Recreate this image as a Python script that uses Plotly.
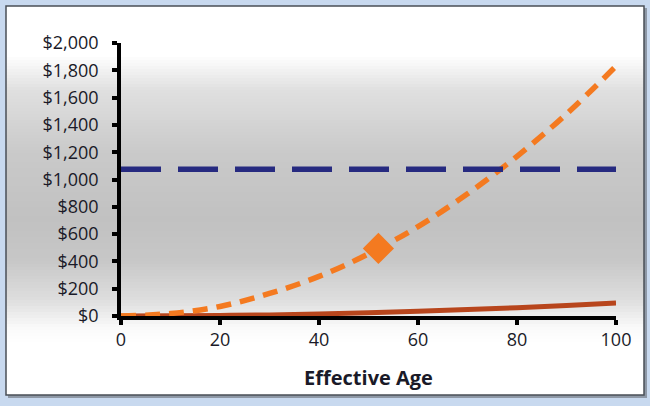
import plotly.graph_objects as go

# ---- data ----
age = [0, 10, 20, 30, 40, 50, 60, 70, 80, 90, 100]
orange_cost = [0, 18, 70, 165, 290, 455, 655, 895, 1170, 1480, 1830]
brown_cost = [0, 1, 4, 8, 15, 24, 35, 47, 61, 77, 95]
navy_x = [0, 100]
navy_cost = [1075, 1075]
marker_x = [52]
marker_cost = [495]
x_ticks = [0, 20, 40, 60, 80, 100]
y_ticks = [0, 200, 400, 600, 800, 1000, 1200, 1400, 1600, 1800, 2000]
y_tick_labels = ["$" + format(v, ",") for v in y_ticks]

W, H = 650, 406
L, R, T, B = 121, 34, 43, 90
PW, PH = W - L - R, H - T - B


def px2paper(xpx, ypx):
    return (xpx - L) / PW, (H - B - ypx) / PH


fig = go.Figure()

fig.add_trace(go.Scatter(x=age, y=brown_cost, mode="lines", line=dict(color="#b8461d", width=5, shape="spline"),
                         cliponaxis=False, showlegend=False, hoverinfo="skip"))
fig.add_trace(go.Scatter(x=age, y=orange_cost, mode="lines",
                         line=dict(color="#f47a20", width=5.5, dash="15px,9px", shape="spline"),
                         cliponaxis=False, showlegend=False, hoverinfo="skip"))
fig.add_trace(go.Scatter(x=navy_x, y=navy_cost, mode="lines",
                         line=dict(color="#262a80", width=5.5, dash="40px,17px"),
                         cliponaxis=False, showlegend=False, hoverinfo="skip"))
fig.add_trace(go.Scatter(x=marker_x, y=marker_cost, mode="markers",
                         marker=dict(symbol="diamond", size=24, color="#f47a20"),
                         cliponaxis=False, showlegend=False, hoverinfo="skip"))

shapes = []
# panel shadow + panel
x0, y0 = px2paper(8, 8)
x1, y1 = px2paper(647, 398)
shapes.append(dict(type="rect", xref="paper", yref="paper", x0=x0, y0=y1, x1=x1, y1=y0,
                   fillcolor="#8e98a6", line=dict(width=0), layer="below"))
# gradient stripes
stops = [(6, 255), (55, 255), (90, 224), (150, 202), (220, 193), (260, 199), (300, 222), (328, 250), (342, 255), (395, 255)]


def gray_at(py):
    for (a, ga), (b, gb) in zip(stops[:-1], stops[1:]):
        if a <= py <= b:
            t = (py - a) / (b - a)
            return ga + (gb - ga) * t
    return 255


step = 3
py = 6
while py < 395:
    pe = min(py + step, 395)
    g = int(round(gray_at((py + pe) / 2)))
    xa, ya = px2paper(6, py)
    xb, yb = px2paper(644, pe)
    shapes.append(dict(type="rect", xref="paper", yref="paper", x0=xa, y0=yb, x1=xb, y1=ya,
                       fillcolor=f"rgb({g},{g},{g})", line=dict(width=0), layer="below"))
    py = pe
xa, ya = px2paper(6, 6)
xb, yb = px2paper(644, 395)
shapes.append(dict(type="rect", xref="paper", yref="paper", x0=xa, y0=yb, x1=xb, y1=ya,
                   fillcolor="rgba(0,0,0,0)", line=dict(color="#4a4f57", width=1.5), layer="below"))

TXT = "#1a1a28"
fig.update_layout(
    width=W, height=H,
    margin=dict(l=L, r=R, t=T, b=B),
    paper_bgcolor="#c8d9ef",
    plot_bgcolor="rgba(0,0,0,0)",
    shapes=shapes,
    font=dict(family="Open Sans", color=TXT),
    xaxis=dict(range=[0, 100], tickvals=x_ticks, showgrid=False, zeroline=False,
               showline=True, linecolor="black", linewidth=3.5,
               ticks="outside", ticklen=5, tickwidth=3.5, tickcolor="black",
               tickfont=dict(size=18, family="Open Sans", color=TXT),
               title=dict(text="<b>Effective Age</b>", font=dict(size=20, family="Open Sans", color=TXT),
                          standoff=22)),
    yaxis=dict(range=[0, 2000], tickvals=y_ticks, ticktext=y_tick_labels, showgrid=False, zeroline=False,
               showline=True, linecolor="black", linewidth=3.5,
               ticks="outside", ticklen=5, tickwidth=3.5, tickcolor="black", ticklabelstandoff=10,
               tickfont=dict(size=18, family="Open Sans", color=TXT)),
)

fig.write_html("out.html", config={"displayModeBar": False},
               post_script="document.body.style.margin='0';document.body.style.overflow='hidden';")
